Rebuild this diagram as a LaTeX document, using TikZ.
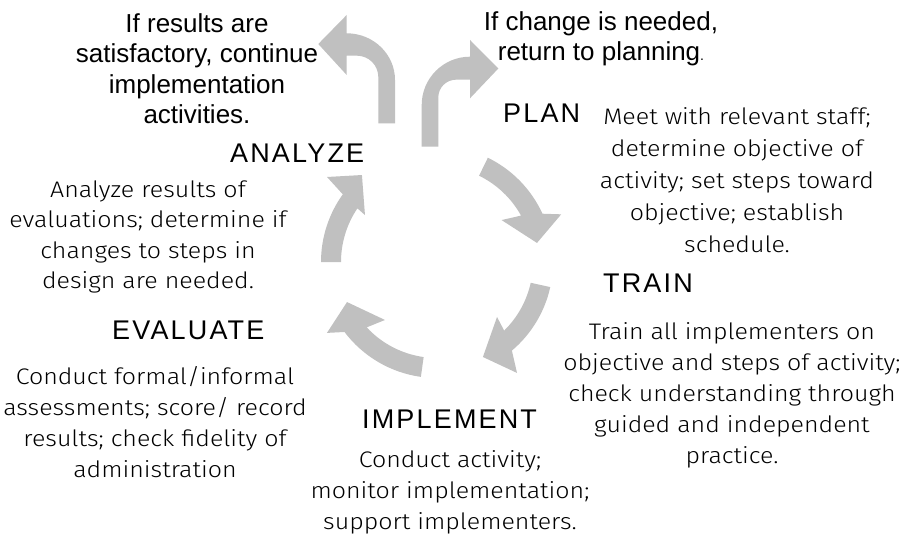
\documentclass[tikz,border=0pt]{standalone}
\usepackage{fontspec}
\setmainfont{Liberation Sans}
\newfontfamily\handfont{Fira Sans}[UprightFont={* Light}, FakeStretch=1.11]
\definecolor{arrowgray}{RGB}{192,192,192}
% fixed-height strut opening the first line of a block
\newcommand\lead{\rule{0pt}{22pt}}

\tikzset{
  cyc/.style={fill=arrowgray, draw=none},
  note/.style={font=\fontsize{26}{30.5}\selectfont, align=center, inner sep=0pt, anchor=north},
  stage/.style={font=\fontsize{27}{30}\selectfont\addfontfeature{LetterSpace=8},
                inner sep=0pt, anchor=base west},
  desc/.style={font=\handfont\fontsize{22.5}{31}\selectfont, align=center, inner sep=0pt,
               anchor=north},
}

\begin{document}
\begin{tikzpicture}[x=1pt,y=1pt]
  \fill[white] (0,0) rectangle (904,-540);
  \useasboundingbox (0,0) rectangle (904,-540);

  % cycle of four curved arrows around a common centre
  \begin{scope}[shift={(437,-262)}]
    % plan -> train
    \fill[cyc] (64:116) arc[start angle=64, end angle=24.6, radius=116]
      -- (21:133) -- (10.8:101.8) -- (33:77) -- (28.9:96)
      arc[start angle=28.9, end angle=64, radius=96] -- cycle;
    % train -> implement
    \fill[cyc] (-12.5:116) arc[start angle=-12.5, end angle=-49.8, radius=116]
      -- (-54.2:136.8) -- (-64.2:105.5) -- (-42.5:81.4) -- (-45.6:96)
      arc[start angle=-45.6, end angle=-12.5, radius=96] -- cycle;
    % implement -> evaluate
    \fill[cyc] (-98:116) arc[start angle=-98, end angle=-142.9, radius=116]
      -- (-147.2:130.9) -- (-156:98.5) -- (-131.9:77.9) -- (-137.1:96)
      arc[start angle=-137.1, end angle=-98, radius=96] -- cycle;
    % evaluate -> analyze
    \fill[cyc] (180:116) arc[start angle=180, end angle=144.3, radius=116]
      -- (142.3:139) -- (130.8:114.9) -- (146.9:86) -- (146:96)
      arc[start angle=146, end angle=180, radius=96] -- cycle;
  \end{scope}

  % bent arrow: continue
  \fill[cyc] (378.3,-123.3) -- (378.3,-77) arc[start angle=0, end angle=90, radius=21.3]
    -- (346.7,-55.7) -- (346.7,-75) -- (318.3,-44) -- (346.7,-15) -- (346.7,-33.3)
    arc[start angle=90, end angle=0, x radius=48.3, y radius=46.7]
    -- (395,-123.3) -- cycle;
  % bent arrow: back to planning
  \fill[cyc] (421.7,-146.7) -- (421.7,-105) arc[start angle=180, end angle=90, radius=48.3]
    -- (470,-40) -- (498.3,-68.5) -- (470,-98.3) -- (470,-79.7) -- (456,-79.7)
    arc[start angle=90, end angle=180, radius=17.7] -- (438.3,-146.7) -- cycle;

  % decision notes (north edge = first baseline - 22pt)
  \node[note] (cont) at (197,-10) {\lead If results are\\satisfactory, continue\\implementation\\activities.};
  \node[note] (back) at (601,-8) {\lead If change is needed,\\return to planning{\fontsize{14}{14}\selectfont.}};

  % stage headings
  \node[stage] (plan) at (503,-123) {PLAN};
  \node[stage] (analyze) at (230,-163) {ANALYZE};
  \node[stage] (evaluate) at (112,-339) {EVALUATE};
  \node[stage] (train) at (603,-292) {TRAIN};
  \node[stage] (implement) at (362,-428) {IMPLEMENT};

  % stage descriptions
  \node[desc, font=\handfont\fontsize{22.5}{32}\selectfont] (plandesc) at (737,-102)
    {\lead Meet with relevant staff;\\determine objective of\\activity; set steps toward\\objective; establish\\schedule.};
  \node[desc, font=\handfont\fontsize{22.5}{30.5}\selectfont] (analyzedesc) at (148,-175)
    {\lead Analyze results of\\evaluations; determine if\\changes to steps in\\design are needed.};
  \node[desc] (evaluatedesc) at (155,-362)
    {\lead Conduct formal/informal\\assessments; score/ record\\results; check fidelity of\\administration};
  \node[desc] (traindesc) at (732,-317)
    {\lead Train all implementers on\\objective and steps of activity;\\check understanding through\\guided and independent\\practice.};
  \node[desc] (implementdesc) at (450,-445)
    {\lead Conduct activity;\\monitor implementation;\\support implementers.};
\end{tikzpicture}
\end{document}
